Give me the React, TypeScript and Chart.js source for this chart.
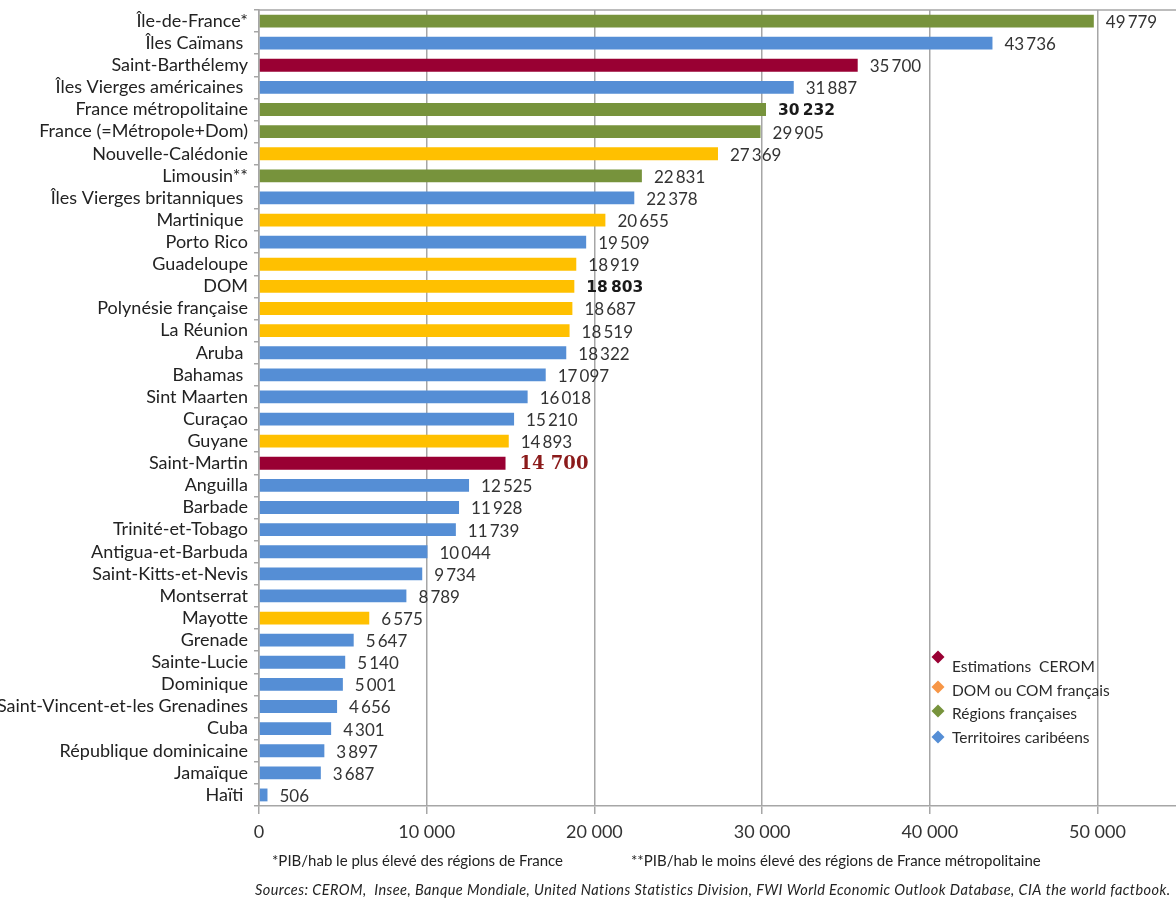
import React, { useEffect, useRef } from "react";
import { Chart, registerables } from "chart.js";

Chart.register(...registerables);

const categories = [
  "Île-de-France*",
  "Îles Caïmans ",
  "Saint-Barthélemy",
  "Îles Vierges américaines ",
  "France métropolitaine",
  "France (=Métropole+Dom)",
  "Nouvelle-Calédonie",
  "Limousin**",
  "Îles Vierges britanniques ",
  "Martinique ",
  "Porto Rico",
  "Guadeloupe",
  "DOM",
  "Polynésie française",
  "La Réunion",
  "Aruba ",
  "Bahamas ",
  "Sint Maarten",
  "Curaçao",
  "Guyane",
  "Saint-Martin",
  "Anguilla",
  "Barbade",
  "Trinité-et-Tobago",
  "Antigua-et-Barbuda",
  "Saint-Kitts-et-Nevis",
  "Montserrat",
  "Mayotte",
  "Grenade",
  "Sainte-Lucie",
  "Dominique",
  "Saint-Vincent-et-les Grenadines",
  "Cuba",
  "République dominicaine",
  "Jamaïque",
  "Haïti ",
];

const gdpPerCapita = [
  49779, 43736, 35700, 31887, 30232, 29905, 27369, 22831, 22378, 20655, 19509,
  18919, 18803, 18687, 18519, 18322, 17097, 16018, 15210, 14893, 14700, 12525,
  11928, 11739, 10044, 9734, 8789, 6575, 5647, 5140, 5001, 4656, 4301, 3897,
  3687, 506,
];

// R = Régions françaises, C = Territoires caribéens, E = Estimations CEROM, D = DOM ou COM français
const groups = [
  "R", "C", "E", "C", "R", "R", "D", "R", "C", "D", "C",
  "D", "D", "D", "D", "C", "C", "C", "C", "D", "E", "C",
  "C", "C", "C", "C", "C", "D", "C", "C", "C", "C", "C", "C",
  "C", "C",
];

const xTickValues = [0, 10000, 20000, 30000, 40000, 50000];

const legendLabels = [
  "Estimations  CEROM",
  "DOM ou COM français",
  "Régions françaises",
  "Territoires caribéens",
];
const legendGroups = ["E", "D", "R", "C"];

const footnoteLeft = "*PIB/hab le plus élevé des régions de France";
const footnoteRight = "**PIB/hab le moins élevé des régions de France métropolitaine";
const sourcesText =
  "Sources: CEROM,  Insee, Banque Mondiale, United Nations Statistics Division, FWI World Economic Outlook Database, CIA the world factbook.";

const boldBlackLabels = ["France métropolitaine", "DOM"];
const boldRedLabels = ["Saint-Martin"];

const barColors: Record<string, string> = {
  R: "#77933C",
  C: "#558ED5",
  E: "#990033",
  D: "#FFC000",
};
const legendColors: Record<string, string> = {
  R: "#77933C",
  C: "#558ED5",
  E: "#990033",
  D: "#F79646",
};

const fmt = (v: number) =>
  String(v).replace(/\B(?=(\d{3})+(?!\d))/g, "\u2009");

const GRID = "#a6a6a6";
const FONT = "Lato, 'Open Sans', sans-serif";

const extrasPlugin = {
  id: "extras",
  afterDatasetsDraw(chart: any) {
    const { ctx, chartArea } = chart;
    ctx.save();
    // top border of plot
    ctx.strokeStyle = GRID;
    ctx.lineWidth = 1.5;
    ctx.beginPath();
    ctx.moveTo(chartArea.left, chartArea.top);
    ctx.lineTo(chart.width, chartArea.top);
    ctx.stroke();

    // value labels
    const meta = chart.getDatasetMeta(0);
    meta.data.forEach((bar: any, i: number) => {
      const cat = categories[i];
      const v = gdpPerCapita[i];
      let font = `17px ${FONT}`;
      let color = "#333333";
      let dx = 12;
      if (boldBlackLabels.includes(cat)) {
        font = `bold 15.5px 'DejaVu Sans', sans-serif`;
        color = "#1a1a1a";
      } else if (boldRedLabels.includes(cat)) {
        font = `bold 18px 'DejaVu Serif', serif`;
        color = "#8B1A1A";
        dx = 14;
      }
      ctx.font = font;
      ctx.fillStyle = color;
      ctx.textAlign = "left";
      ctx.textBaseline = "middle";
      const txt = boldRedLabels.includes(cat)
        ? String(v).replace(/\B(?=(\d{3})+(?!\d))/g, " ")
        : fmt(v);
      ctx.fillText(txt, bar.x + dx, bar.y + 1.5);
    });

    // legend
    const lx = 938;
    const textY = [666, 690, 713, 737];
    const markerDy = [-9, -3, -2, 0];
    legendLabels.forEach((lab, i) => {
      const y = textY[i];
      const c = legendColors[legendGroups[i]];
      ctx.fillStyle = c;
      ctx.beginPath();
      const s = 6.5;
      const cy = y + markerDy[i];
      ctx.moveTo(lx, cy - s);
      ctx.lineTo(lx + s, cy);
      ctx.lineTo(lx, cy + s);
      ctx.lineTo(lx - s, cy);
      ctx.closePath();
      ctx.fill();
      ctx.font = `15.5px ${FONT}`;
      ctx.fillStyle = "#2a2a2a";
      ctx.textAlign = "left";
      ctx.textBaseline = "middle";
      ctx.fillText(lab, lx + 14, y + 1);
    });

    // footnotes
    ctx.font = `15px ${FONT}`;
    ctx.fillStyle = "#222222";
    ctx.textBaseline = "middle";
    ctx.textAlign = "left";
    ctx.fillText(footnoteLeft, 272, 861);
    ctx.fillText(footnoteRight, 631, 861);

    ctx.font = `italic 14.5px ${FONT}`;
    const x0 = 255;
    const target = 1170 - x0;
    const w = ctx.measureText(sourcesText).width;
    const sp = (target - w) / sourcesText.length;
    (ctx as any).letterSpacing = `${sp}px`;
    ctx.fillText(sourcesText, x0, 890);
    (ctx as any).letterSpacing = "0px";
    ctx.restore();
  },
};

export default function App() {
  const ref = useRef<HTMLCanvasElement | null>(null);
  useEffect(() => {
    if (!ref.current) return;
    const chart = new Chart(ref.current, {
      type: "bar",
      data: {
        labels: categories,
        datasets: [
          {
            data: gdpPerCapita,
            backgroundColor: groups.map((g) => barColors[g]),
            borderWidth: 0,
            barPercentage: 0.58,
            categoryPercentage: 1,
          },
        ],
      },
      options: {
        indexAxis: "y",
        responsive: false,
        animation: false,
        layout: { padding: { top: 10, right: 0, left: 0, bottom: 0 } },
        plugins: {
          legend: { display: false },
          tooltip: { enabled: false },
        },
        scales: {
          x: {
            min: 0,
            max: 54680,
            afterBuildTicks: (axis: any) => {
              axis.ticks = xTickValues.map((v) => ({ value: v }));
            },
            afterFit: (axis: any) => {
              axis.height = 96;
              axis.paddingLeft = 0;
              axis.paddingRight = 0;
            },
            ticks: {
              callback: (v: any) => fmt(Number(v)).replace(/\u2009/g, " "),
              font: { family: FONT, size: 18 },
              color: "#333333",
              padding: 7,
              maxRotation: 0,
            },
            grid: {
              color: GRID,
              lineWidth: 1.5,
              tickLength: 8,
              drawTicks: true,
            },
            border: { color: GRID, width: 1.5 },
          },
          y: {
            afterFit: (axis: any) => {
              axis.width = 259;
              axis.paddingTop = 0;
              axis.paddingBottom = 0;
            },
            ticks: {
              font: { family: FONT, size: 18 },
              color: "#222222",
              padding: 6,
              autoSkip: false,
            },
            grid: {
              drawOnChartArea: false,
              drawTicks: true,
              tickLength: 5,
              offset: true,
              color: GRID,
              lineWidth: 1.5,
            },
            border: { color: GRID, width: 1.5 },
          },
        },
      },
      plugins: [extrasPlugin],
    });
    return () => chart.destroy();
  }, []);
  return (
    <div style={{ position: "absolute", left: 0, top: 0, width: 1176, height: 902, background: "#fff" }}>
      <canvas ref={ref} width={1176} height={902} />
    </div>
  );
}
